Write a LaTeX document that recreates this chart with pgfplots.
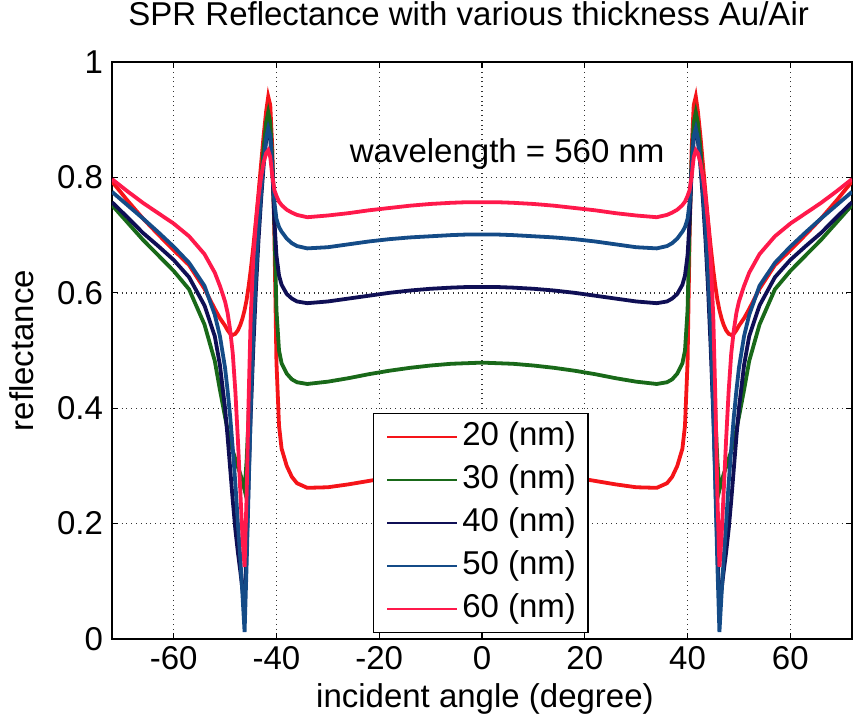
\documentclass[border=0pt]{standalone}
\usepackage{fontspec}
\setmainfont{Liberation Sans}
\usepackage{pgfplots}
\pgfplotsset{compat=1.18}
\usepackage{pgfplotstable}

\definecolor{c20}{RGB}{245,20,25}
\definecolor{c30}{RGB}{25,105,25}
\definecolor{c40}{RGB}{15,15,85}
\definecolor{c50}{RGB}{20,75,135}
\definecolor{c60}{RGB}{255,25,75}

\pgfplotstableread{
x r20 g30 n40 b50 p60
-72 0.793 0.752 0.757 0.775 0.797
-69 0.760 0.722 0.731 0.752 0.776
-66 0.729 0.692 0.704 0.729 0.756
-63 0.701 0.665 0.681 0.705 0.738
-60 0.674 0.638 0.657 0.680 0.720
-57 0.648 0.606 0.627 0.652 0.698
-54 0.607 0.545 0.578 0.612 0.667
-52 0.572 0.482 0.525 0.562 0.635
-51 0.556 0.432 0.475 0.525 0.612
-50 0.543 0.385 0.400 0.470 0.585
-49.5 0.535 0.362 0.350 0.430 0.565
-49 0.529 0.342 0.295 0.385 0.535
-48.5 0.527 0.326 0.240 0.330 0.495
-48 0.529 0.312 0.190 0.270 0.430
-47.5 0.535 0.298 0.150 0.200 0.345
-47 0.545 0.285 0.115 0.135 0.250
-46.6 0.556 0.272 0.085 0.075 0.175
-46.2 0.570 0.258 0.062 0.012 0.125
-45.8 0.588 0.310 0.160 0.130 0.250
-45.4 0.612 0.390 0.280 0.265 0.420
-45 0.640 0.470 0.390 0.400 0.560
-44.5 0.680 0.565 0.505 0.535 0.660
-44 0.725 0.645 0.605 0.630 0.720
-43.5 0.772 0.720 0.690 0.710 0.765
-43 0.822 0.790 0.760 0.772 0.800
-42.5 0.872 0.850 0.820 0.828 0.826
-42 0.915 0.895 0.865 0.868 0.842
-41.6 0.940 0.913 0.882 0.885 0.847
-41.2 0.925 0.895 0.868 0.872 0.835
-40.8 0.850 0.830 0.815 0.815 0.802
-40.4 0.700 0.720 0.725 0.757 0.778
-40 0.480 0.570 0.665 0.728 0.768
-39.5 0.370 0.500 0.630 0.714 0.758
-39 0.330 0.478 0.614 0.706 0.752
-38 0.300 0.460 0.598 0.694 0.744
-37 0.281 0.450 0.590 0.686 0.739
-36 0.270 0.445 0.585 0.681 0.735
-34 0.262 0.442 0.582 0.677 0.731
-30 0.263 0.446 0.585 0.679 0.734
-26 0.268 0.452 0.590 0.684 0.738
-22 0.274 0.459 0.595 0.689 0.743
-18 0.280 0.465 0.600 0.693 0.747
-14 0.285 0.470 0.604 0.696 0.751
-10 0.289 0.474 0.607 0.698 0.754
-6 0.292 0.477 0.609 0.700 0.756
-3 0.293 0.478 0.610 0.701 0.757
0 0.294 0.479 0.610 0.701 0.757
3 0.293 0.478 0.610 0.701 0.757
6 0.292 0.477 0.609 0.700 0.756
10 0.289 0.474 0.607 0.698 0.754
14 0.285 0.470 0.604 0.696 0.751
18 0.280 0.465 0.600 0.693 0.747
22 0.274 0.459 0.595 0.689 0.743
26 0.268 0.452 0.590 0.684 0.738
30 0.263 0.446 0.585 0.679 0.734
34 0.262 0.442 0.582 0.677 0.731
36 0.270 0.445 0.585 0.681 0.735
37 0.281 0.450 0.590 0.686 0.739
38 0.300 0.460 0.598 0.694 0.744
39 0.330 0.478 0.614 0.706 0.752
39.5 0.370 0.500 0.630 0.714 0.758
40 0.480 0.570 0.665 0.728 0.768
40.4 0.700 0.720 0.725 0.757 0.778
40.8 0.850 0.830 0.815 0.815 0.802
41.2 0.925 0.895 0.868 0.872 0.835
41.6 0.940 0.913 0.882 0.885 0.847
42 0.915 0.895 0.865 0.868 0.842
42.5 0.872 0.850 0.820 0.828 0.826
43 0.822 0.790 0.760 0.772 0.800
43.5 0.772 0.720 0.690 0.710 0.765
44 0.725 0.645 0.605 0.630 0.720
44.5 0.680 0.565 0.505 0.535 0.660
45 0.640 0.470 0.390 0.400 0.560
45.4 0.612 0.390 0.280 0.265 0.420
45.8 0.588 0.310 0.160 0.130 0.250
46.2 0.570 0.258 0.062 0.012 0.125
46.6 0.556 0.272 0.085 0.075 0.175
47 0.545 0.285 0.115 0.135 0.250
47.5 0.535 0.298 0.150 0.200 0.345
48 0.529 0.312 0.190 0.270 0.430
48.5 0.527 0.326 0.240 0.330 0.495
49 0.529 0.342 0.295 0.385 0.535
49.5 0.535 0.362 0.350 0.430 0.565
50 0.543 0.385 0.400 0.470 0.585
51 0.556 0.432 0.475 0.525 0.612
52 0.572 0.482 0.525 0.562 0.635
54 0.607 0.545 0.578 0.612 0.667
57 0.648 0.606 0.627 0.652 0.698
60 0.674 0.638 0.657 0.680 0.720
63 0.701 0.665 0.681 0.705 0.738
66 0.729 0.692 0.704 0.729 0.756
69 0.760 0.722 0.731 0.752 0.776
72 0.793 0.752 0.757 0.775 0.797
}\spr

\begin{document}
\begin{tikzpicture}[font=\fontsize{16.5}{19}\selectfont]
\path[use as bounding box] (-56pt,-43pt) rectangle (371pt,319.5pt);
\begin{axis}[
  at={(0pt,0pt)}, anchor=south west,
  scale only axis, width=370pt, height=288.5pt,
  xmin=-72, xmax=72, ymin=0, ymax=1,
  xtick={-60,-40,-20,0,20,40,60},
  xticklabels={-60,-40,-20,0,20,40,60},
  ytick={0,0.2,0.4,0.6,0.8,1},
  yticklabels={0,0.2,0.4,0.6,0.8,1},
  yticklabel style={xshift=-1pt},
  tick align=inside, major tick length=3pt,
  tick style={black, line width=0.6pt},
  axis line style={black, line width=0.8pt},
  grid=major, major grid style={black!80, dotted, line width=0.7pt},
  xlabel={incident angle (degree)},
  ylabel={reflectance},
  xlabel style={at={(rel axis cs:0.504,0)}, anchor=base, yshift=-34pt},
  ylabel style={at={(rel axis cs:0,0.5)}, anchor=center, yshift=45pt},
  title={SPR Reflectance with various thickness Au/Air},
  title style={at={(rel axis cs:0.482,1)}, anchor=base, yshift=12.5pt},
  legend cell align=left,
  legend image code/.code={\draw[#1, line width=1.3pt] (0pt,0pt) -- (35pt,0pt);},
  legend style={at={(rel axis cs:0.3527,0.0104)}, anchor=south west,
    draw=black, line width=0.7pt, fill=white,
    inner xsep=6pt, inner ysep=4pt, row sep=6pt, column sep=2pt,
    nodes={inner sep=0pt, text height=12pt, text depth=3.5pt}},
  every axis plot/.append style={line width=1.9pt},
]
\addplot[c20] table[x=x, y=r20] {\spr};
\addlegendentry{20 (nm)}
\addplot[c30] table[x=x, y=g30] {\spr};
\addlegendentry{30 (nm)}
\addplot[c40] table[x=x, y=n40] {\spr};
\addlegendentry{40 (nm)}
\addplot[c50] table[x=x, y=b50] {\spr};
\addlegendentry{50 (nm)}
\addplot[c60] table[x=x, y=p60] {\spr};
\addlegendentry{60 (nm)}
\node[anchor=base] at (axis cs:4.9,0.826) {wavelength = 560 nm};
\end{axis}
\end{tikzpicture}
\end{document}
